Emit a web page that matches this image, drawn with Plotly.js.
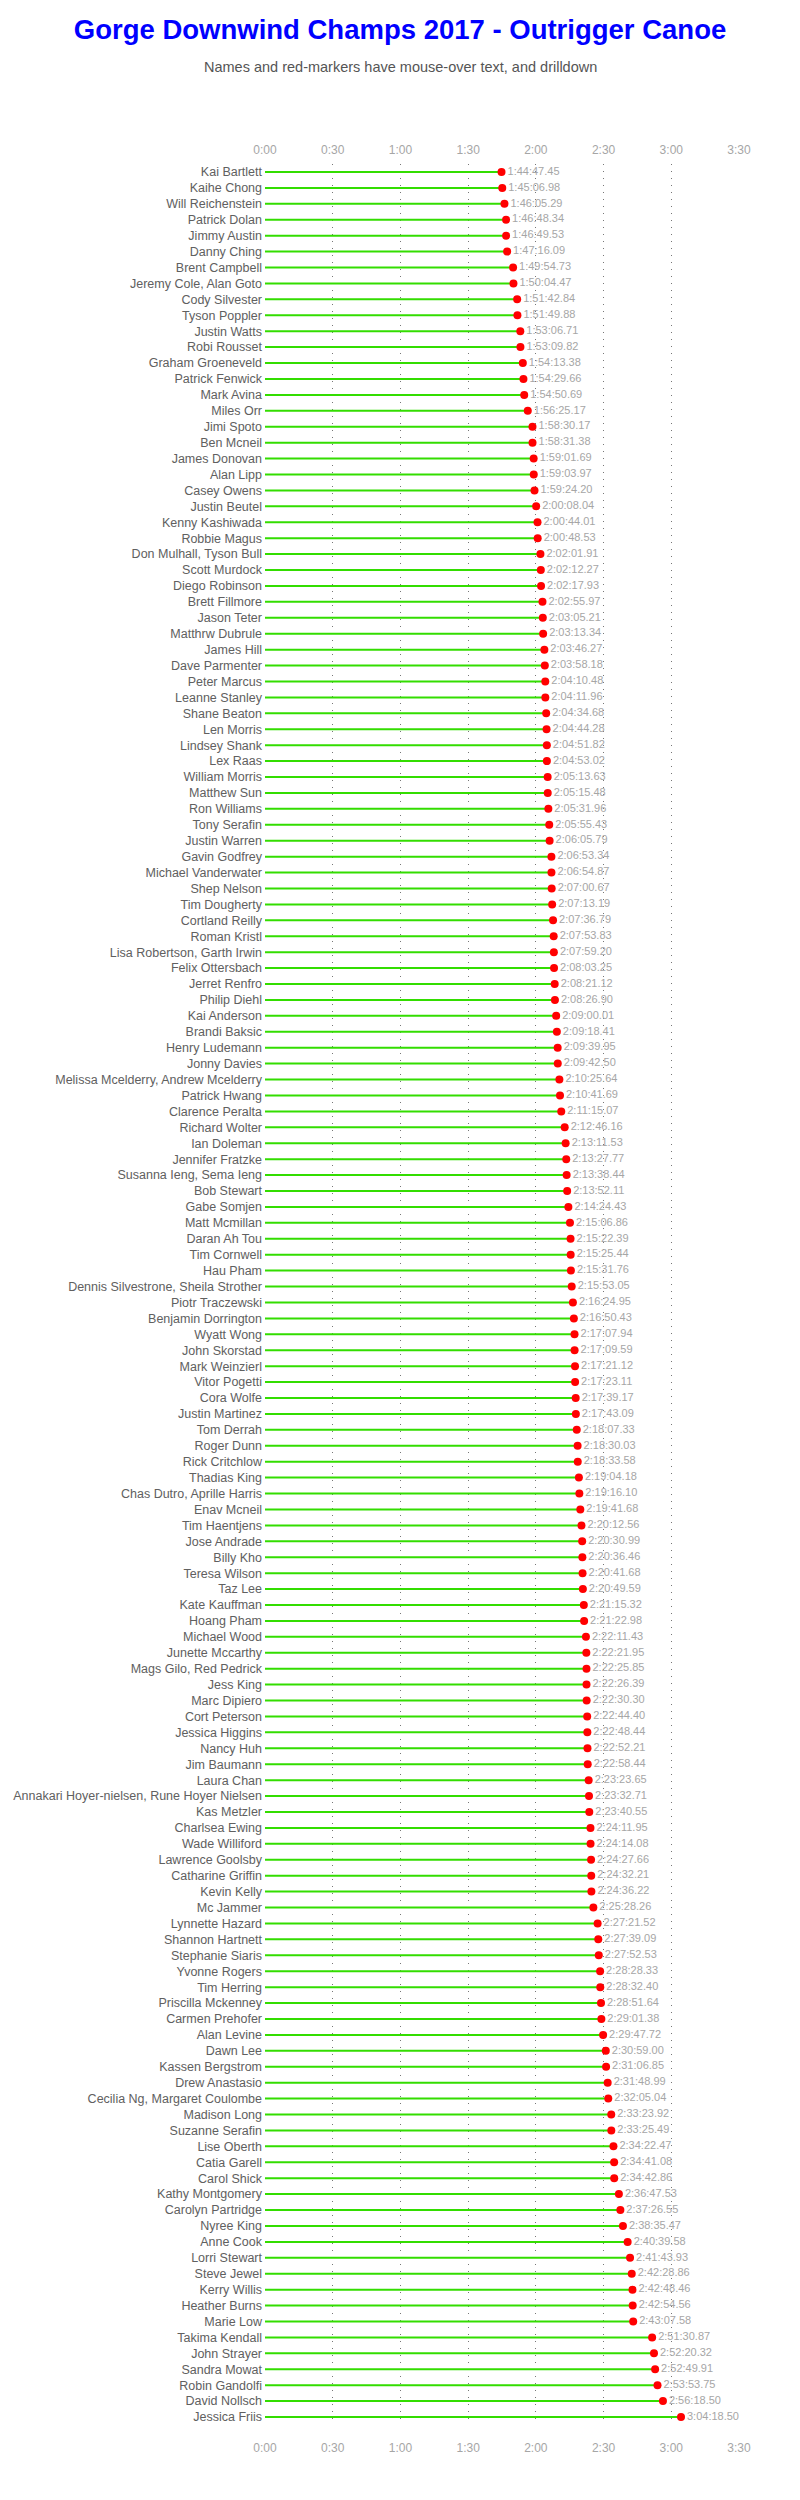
<!DOCTYPE html>
<html>
<head>
<meta charset="utf-8">
<script src="https://cdn.plot.ly/plotly-3.0.1.min.js"></script>
<style>
  html, body { margin: 0; padding: 0; background: #fff; }
  #chart { width: 800px; height: 2500px; }
</style>
</head>
<body>
<div id="chart"></div>
<script>
const names = [
  "Kai Bartlett","Kaihe Chong","Will Reichenstein","Patrick Dolan","Jimmy Austin","Danny Ching",
  "Brent Campbell","Jeremy Cole, Alan Goto","Cody Silvester","Tyson Poppler","Justin Watts","Robi Rousset",
  "Graham Groeneveld","Patrick Fenwick","Mark Avina","Miles Orr","Jimi Spoto","Ben Mcneil",
  "James Donovan","Alan Lipp","Casey Owens","Justin Beutel","Kenny Kashiwada","Robbie Magus",
  "Don Mulhall, Tyson Bull","Scott Murdock","Diego Robinson","Brett Fillmore","Jason Teter","Matthrw Dubrule",
  "James Hill","Dave Parmenter","Peter Marcus","Leanne Stanley","Shane Beaton","Len Morris",
  "Lindsey Shank","Lex Raas","William Morris","Matthew Sun","Ron Williams","Tony Serafin",
  "Justin Warren","Gavin Godfrey","Michael Vanderwater","Shep Nelson","Tim Dougherty","Cortland Reilly",
  "Roman Kristl","Lisa Robertson, Garth Irwin","Felix Ottersbach","Jerret Renfro","Philip Diehl","Kai Anderson",
  "Brandi Baksic","Henry Ludemann","Jonny Davies","Melissa Mcelderry, Andrew Mcelderry","Patrick Hwang","Clarence Peralta",
  "Richard Wolter","Ian Doleman","Jennifer Fratzke","Susanna Ieng, Sema Ieng","Bob Stewart","Gabe Somjen",
  "Matt Mcmillan","Daran Ah Tou","Tim Cornwell","Hau Pham","Dennis Silvestrone, Sheila Strother","Piotr Traczewski",
  "Benjamin Dorrington","Wyatt Wong","John Skorstad","Mark Weinzierl","Vitor Pogetti","Cora Wolfe",
  "Justin Martinez","Tom Derrah","Roger Dunn","Rick Critchlow","Thadias King","Chas Dutro, Aprille Harris",
  "Enav Mcneil","Tim Haentjens","Jose Andrade","Billy Kho","Teresa Wilson","Taz Lee",
  "Kate Kauffman","Hoang Pham","Michael Wood","Junette Mccarthy","Mags Gilo, Red Pedrick","Jess King",
  "Marc Dipiero","Cort Peterson","Jessica Higgins","Nancy Huh","Jim Baumann","Laura Chan",
  "Annakari Hoyer-nielsen, Rune Hoyer Nielsen","Kas Metzler","Charlsea Ewing","Wade Williford","Lawrence Goolsby","Catharine Griffin",
  "Kevin Kelly","Mc Jammer","Lynnette Hazard","Shannon Hartnett","Stephanie Siaris","Yvonne Rogers",
  "Tim Herring","Priscilla Mckenney","Carmen Prehofer","Alan Levine","Dawn Lee","Kassen Bergstrom",
  "Drew Anastasio","Cecilia Ng, Margaret Coulombe","Madison Long","Suzanne Serafin","Lise Oberth","Catia Garell",
  "Carol Shick","Kathy Montgomery","Carolyn Partridge","Nyree King","Anne Cook","Lorri Stewart",
  "Steve Jewel","Kerry Willis","Heather Burns","Marie Low","Takima Kendall","John Strayer",
  "Sandra Mowat","Robin Gandolfi","David Nollsch","Jessica Friis"
];

const times = [
  "1:44:47.45","1:45:06.98","1:46:05.29","1:46:48.34","1:46:49.53","1:47:16.09",
  "1:49:54.73","1:50:04.47","1:51:42.84","1:51:49.88","1:53:06.71","1:53:09.82",
  "1:54:13.38","1:54:29.66","1:54:50.69","1:56:25.17","1:58:30.17","1:58:31.38",
  "1:59:01.69","1:59:03.97","1:59:24.20","2:00:08.04","2:00:44.01","2:00:48.53",
  "2:02:01.91","2:02:12.27","2:02:17.93","2:02:55.97","2:03:05.21","2:03:13.34",
  "2:03:46.27","2:03:58.18","2:04:10.48","2:04:11.96","2:04:34.68","2:04:44.28",
  "2:04:51.82","2:04:53.02","2:05:13.63","2:05:15.48","2:05:31.96","2:05:55.43",
  "2:06:05.79","2:06:53.34","2:06:54.87","2:07:00.67","2:07:13.19","2:07:36.79",
  "2:07:53.83","2:07:59.20","2:08:03.25","2:08:21.12","2:08:26.90","2:09:00.01",
  "2:09:18.41","2:09:39.95","2:09:42.50","2:10:25.64","2:10:41.69","2:11:15.07",
  "2:12:46.16","2:13:11.53","2:13:27.77","2:13:38.44","2:13:52.11","2:14:24.43",
  "2:15:06.86","2:15:22.39","2:15:25.44","2:15:31.76","2:15:53.05","2:16:24.95",
  "2:16:50.43","2:17:07.94","2:17:09.59","2:17:21.12","2:17:23.11","2:17:39.17",
  "2:17:43.09","2:18:07.33","2:18:30.03","2:18:33.58","2:19:04.18","2:19:16.10",
  "2:19:41.68","2:20:12.56","2:20:30.99","2:20:36.46","2:20:41.68","2:20:49.59",
  "2:21:15.32","2:21:22.98","2:22:11.43","2:22:21.95","2:22:25.85","2:22:26.39",
  "2:22:30.30","2:22:44.40","2:22:48.44","2:22:52.21","2:22:58.44","2:23:23.65",
  "2:23:32.71","2:23:40.55","2:24:11.95","2:24:14.08","2:24:27.66","2:24:32.21",
  "2:24:36.22","2:25:28.26","2:27:21.52","2:27:39.09","2:27:52.53","2:28:28.33",
  "2:28:32.40","2:28:51.64","2:29:01.38","2:29:47.72","2:30:59.00","2:31:06.85",
  "2:31:48.99","2:32:05.04","2:33:23.92","2:33:25.49","2:34:22.47","2:34:41.08",
  "2:34:42.86","2:36:47.53","2:37:26.55","2:38:35.47","2:40:39.58","2:41:43.93",
  "2:42:28.86","2:42:48.46","2:42:54.56","2:43:07.58","2:51:30.87","2:52:20.32",
  "2:52:49.91","2:53:53.75","2:56:18.50","3:04:18.50"
];

const tickMinutes = [0, 30, 60, 90, 120, 150, 180, 210];
const tickLabels = ["0:00","0:30","1:00","1:30","2:00","2:30","3:00","3:30"];

const titleText = "Gorge Downwind Champs 2017 - Outrigger Canoe";
const subtitleText = "Names and red-markers have mouse-over text, and drilldown";

// convert "h:mm:ss.ss" to minutes
function toMinutes(t) {
  const p = t.split(":");
  return parseFloat(p[0]) * 60 + parseFloat(p[1]) + parseFloat(p[2]) / 60;
}
const minutes = times.map(toMinutes);

// stems from 0 to each finish time
const stemX = [], stemY = [];
minutes.forEach((m, i) => {
  stemX.push(0, m, null);
  stemY.push(names[i], names[i], null);
});

const FONT = "Liberation Sans, Arial, sans-serif";
const W = 800, ML = 265, MR = 61;

const traces = [
  {
    type: "scatter", mode: "lines",
    x: stemX, y: stemY,
    line: { color: "#33dd00", width: 2 },
    hoverinfo: "skip", showlegend: false
  },
  {
    type: "scatter", mode: "markers+text",
    x: minutes, y: names,
    text: times,
    textposition: "middle right",
    textfont: { family: FONT, size: 11, color: "#a6a6a6" },
    marker: { color: "#ff0000", size: 8 },
    hovertext: names.map((n, i) => n + "<br>" + times[i]),
    hoverinfo: "text",
    cliponaxis: false,
    showlegend: false
  },
  {
    type: "scatter", mode: "markers",
    x: [0], y: [names[0]],
    xaxis: "x2",
    marker: { opacity: 0 },
    hoverinfo: "skip", showlegend: false
  }
];

const xCommon = {
  range: [0, 210],
  tickmode: "array",
  tickvals: tickMinutes,
  ticktext: tickLabels,
  tickfont: { family: FONT, size: 12, color: "#a6a6a6" },
  showline: false,
  zeroline: false,
  ticks: "outside",
  tickcolor: "#ffffff",
  fixedrange: true
};

const layout = {
  width: W, height: 2500,
  paper_bgcolor: "#ffffff",
  plot_bgcolor: "#ffffff",
  margin: { l: ML, r: MR, t: 164, b: 75 },
  title: {
    text: "<b>" + titleText + "</b>",
    font: { family: FONT, size: 27.5, color: "#0000ff" },
    x: 0.5, xanchor: "center",
    y: 1 - 29 / 2500, yanchor: "middle", yref: "container"
  },
  xaxis: Object.assign({}, xCommon, {
    side: "bottom",
    ticklen: 12,
    showgrid: true,
    gridcolor: "#777777",
    gridwidth: 1,
    griddash: "1px,6px"
  }),
  xaxis2: Object.assign({}, xCommon, {
    side: "top",
    ticklen: 4,
    overlaying: "x",
    matches: "x",
    showgrid: false
  }),
  yaxis: {
    type: "category",
    categoryorder: "array",
    categoryarray: names,
    autorange: false,
    range: [names.length - 0.5, -0.5],
    showgrid: false,
    zeroline: false,
    showline: false,
    ticks: "",
    tickfont: { family: FONT, size: 12.5, color: "#606060" },
    ticklabelstandoff: 2,
    fixedrange: true
  },
  annotations: [{
    text: subtitleText,
    xref: "paper", yref: "paper",
    x: (W / 2 - ML) / (W - ML - MR), y: 1,
    xanchor: "center", yanchor: "middle",
    yshift: 97,
    showarrow: false,
    font: { family: FONT, size: 14.5, color: "#555555" }
  }],
  hovermode: "closest",
  showlegend: false
};

Plotly.newPlot("chart", traces, layout, { displayModeBar: false, responsive: false });
</script>
</body>
</html>
